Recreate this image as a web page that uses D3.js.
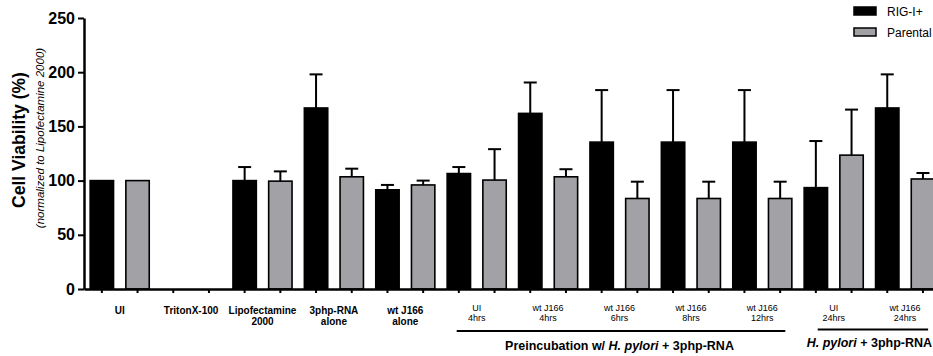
<!DOCTYPE html>
<html>
<head>
<meta charset="utf-8">
<script src="https://cdn.jsdelivr.net/npm/d3@7"></script>
<style>
  body { margin: 0; background: #fff; }
  svg { font-family: "Liberation Sans", Arial, sans-serif; }
</style>
</head>
<body>
<div id="chart"></div>
<script>
const width = 933, height = 356;

// group labels (one entry per line)
const groupLabels = [
    ["UI"], ["TritonX-100"], ["Lipofectamine", "2000"], ["3php-RNA", "alone"], ["wt J166", "alone"],
    ["UI", "4hrs"], ["wt J166", "4hrs"], ["wt J166", "6hrs"], ["wt J166", "8hrs"], ["wt J166", "12hrs"],
    ["UI", "24hrs"], ["wt J166", "24hrs"]
];
const seriesNames = ["RIG-I+", "Parental"];
const rigValues = [100, 0, 100, 167, 91.5, 106.5, 162, 135.5, 135.5, 135.5, 93.5, 167];
const rigErrors = [0, 0, 12.5, 31, 4.5, 6, 28.5, 48, 48, 48, 43, 31];
const parValues = [100, 0, 99.5, 103.5, 96, 100.5, 103.5, 83.5, 83.5, 83.5, 123.5, 101.5];
const parErrors = [0, 0, 9, 7.5, 4, 28.5, 7, 15.5, 15.5, 15.5, 42, 5.5];
const yTicks = [0, 50, 100, 150, 200, 250];
const brackets = [
    { first: 5, last: 9, pre: "Preincubation w/ ", it: "H. pylori", post: " + 3php-RNA" },
    { first: 10, last: 11, pre: "", it: "H. pylori", post: " + 3php-RNA" }
];

const colors = ["#000000", "#a2a1a6"];

const svg = d3.select("#chart").append("svg")
    .attr("width", width)
    .attr("height", height);

// build bar list from the arrays
const bars = [];
groupLabels.forEach((g, i) => {
    bars.push({ id: i + "-r", group: i, s: 0, v: rigValues[i], e: rigErrors[i] });
    bars.push({ id: i + "-p", group: i, s: 1, v: parValues[i], e: parErrors[i] });
});

const x0 = 84, step = 35.7;
const x = d3.scaleBand()
    .domain(bars.map(d => d.id))
    .range([x0, x0 + step * bars.length])
    .paddingInner(0.345)
    .paddingOuter(0.1725);

const xg = d3.scaleBand()
    .domain(groupLabels.map((d, i) => i))
    .range([x0, x0 + step * bars.length]);

const y = d3.scaleLinear().domain([0, 250]).range([289, 18]);

// bars
svg.selectAll("rect.bar")
    .data(bars)
    .join("rect")
    .attr("class", "bar")
    .attr("x", d => x(d.id))
    .attr("y", d => y(d.v))
    .attr("width", x.bandwidth())
    .attr("height", d => y(0) - y(d.v))
    .attr("fill", d => colors[d.s])
    .attr("stroke", "#000")
    .attr("stroke-width", 1.6);

// error bars (upper only)
const eb = svg.selectAll("g.err")
    .data(bars.filter(d => d.e > 0))
    .join("g")
    .attr("class", "err")
    .attr("stroke", "#000")
    .attr("stroke-width", 2);
eb.append("line")
    .attr("x1", d => x(d.id) + x.bandwidth() / 2)
    .attr("x2", d => x(d.id) + x.bandwidth() / 2)
    .attr("y1", d => y(d.v))
    .attr("y2", d => y(d.v + d.e));
eb.append("line")
    .attr("x1", d => x(d.id) + x.bandwidth() / 2 - 6.5)
    .attr("x2", d => x(d.id) + x.bandwidth() / 2 + 6.5)
    .attr("y1", d => y(d.v + d.e))
    .attr("y2", d => y(d.v + d.e));

// y axis
const yAxis = svg.append("g")
    .attr("transform", `translate(${x0},0)`)
    .call(d3.axisLeft(y).tickValues(yTicks).tickSize(6).tickSizeOuter(0).tickPadding(3));
yAxis.select(".domain").attr("stroke-width", 2.5);
yAxis.selectAll(".tick line").attr("stroke-width", 2);
yAxis.selectAll(".tick text")
    .attr("font-size", 16)
    .attr("font-weight", "bold")
    .attr("font-family", "Liberation Sans, Arial, sans-serif")
    .attr("fill", "#000");

// x axis
const xAxis = svg.append("g")
    .attr("transform", `translate(0,${y(0)})`)
    .call(d3.axisBottom(x).tickSize(4).tickSizeOuter(0).tickFormat(""));
xAxis.select(".domain").attr("stroke-width", 2.5);
xAxis.selectAll(".tick line").attr("stroke-width", 2);

// group labels
groupLabels.forEach((lines, i) => {
    const big = i < 5;
    const t = svg.append("text")
        .attr("text-anchor", "middle")
        .attr("font-size", big ? 10 : 9)
        .attr("font-weight", big ? "bold" : "normal")
        .attr("transform", `translate(${xg(i) + xg.bandwidth() / 2},${big ? 313.5 : 311})`);
    lines.forEach((l, k) => {
        t.append("tspan").attr("x", 0).attr("y", k * (big ? 11.5 : 10)).text(l);
    });
});

// brackets
brackets.forEach(b => {
    const c1 = xg(b.first) + xg.bandwidth() / 2;
    const c2 = xg(b.last) + xg.bandwidth() / 2;
    const ly = b.first === 5 ? 331 : 329.5;
    svg.append("line")
        .attr("x1", c1 - (b.first === 5 ? 20 : 16))
        .attr("x2", c2 + 23)
        .attr("y1", ly).attr("y2", ly)
        .attr("stroke", "#000")
        .attr("stroke-width", 2.2);
    const t = svg.append("text")
        .attr("x", (c1 + c2) / 2)
        .attr("y", b.first === 5 ? 349.5 : 347)
        .attr("text-anchor", "middle")
        .attr("font-size", 12.5)
        .attr("font-weight", "bold");
    if (b.pre) t.append("tspan").text(b.pre);
    t.append("tspan").attr("font-style", "italic").text(b.it);
    t.append("tspan").text(b.post);
});

// y label
svg.append("text")
    .attr("transform", "translate(25,140) rotate(-90)")
    .attr("text-anchor", "middle")
    .attr("font-size", 17.5)
    .attr("font-weight", "bold")
    .text("Cell Viability (%)");
svg.append("text")
    .attr("transform", "translate(44,138) rotate(-90)")
    .attr("text-anchor", "middle")
    .attr("font-size", 11.5)
    .attr("font-style", "italic")
    .text("(normalized to Lipofectamine 2000)");

// legend
const lg = svg.append("g").attr("transform", "translate(854,0)");
seriesNames.forEach((n, i) => {
    lg.append("rect")
        .attr("x", 0).attr("y", 7 + i * 21)
        .attr("width", 22).attr("height", 8)
        .attr("fill", colors[i])
        .attr("stroke", "#000")
        .attr("stroke-width", 1.5);
    lg.append("text")
        .attr("x", 33).attr("y", 15.5 + i * 21)
        .attr("font-size", 12)
        .text(n);
});
</script>
</body>
</html>
